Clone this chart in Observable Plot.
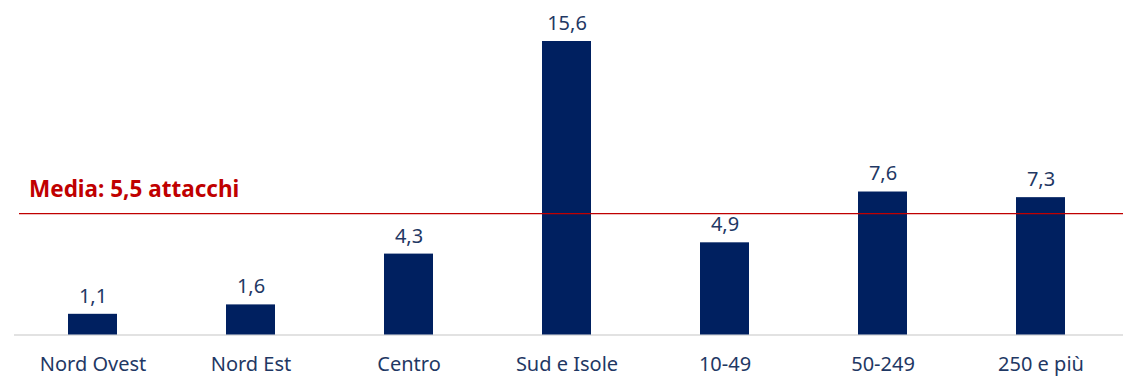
<!DOCTYPE html>
<html>
<head>
<meta charset="utf-8">
<script src="https://cdn.jsdelivr.net/npm/d3@7"></script>
<script src="https://cdn.jsdelivr.net/npm/@observablehq/plot@0.6"></script>
<style>
  html, body { margin: 0; padding: 0; background: #fff; }
  #chart svg { display: block; }
</style>
</head>
<body>
<div id="chart"></div>
<script>
const categories = ["Nord Ovest", "Nord Est", "Centro", "Sud e Isole", "10-49", "50-249", "250 e più"];
const values = [1.1, 1.6, 4.3, 15.6, 4.9, 7.6, 7.3];
const valueLabels = ["1,1", "1,6", "4,3", "15,6", "4,9", "7,6", "7,3"];
const mediaLabel = "Media: 5,5 attacchi";
const mediaLinePosition = [6.45]; // position of the reference line as drawn in the picture

const data = categories.map((c, i) => ({category: c, value: values[i], label: valueLabels[i]}));

const navy = "#002060";
const textNavy = "#1F3864";
const red = "#C00000";
const font = "'Noto Sans', Roboto, sans-serif";

const chart = Plot.plot({
  width: 1123,
  height: 385,
  marginLeft: 13.5,
  marginRight: 3.5,
  marginTop: 41,
  marginBottom: 50.5,
  style: {fontFamily: font, background: "#fff"},
  x: {domain: categories, paddingInner: 0.69, paddingOuter: 0.345, label: null},
  y: {domain: [0, 15.6], axis: null},
  marks: [
    Plot.ruleY([0], {stroke: "#d9d9d9", strokeWidth: 1.5, insetLeft: 0.5, insetRight: -3.5}),
    Plot.barY(data, {x: "category", y: "value", fill: navy}),
    Plot.ruleY(mediaLinePosition, {stroke: red, strokeWidth: 1.2, insetLeft: 5.5, insetRight: -3.5}),
    Plot.text(mediaLinePosition, {y: d => d, text: () => mediaLabel, frameAnchor: "left", dx: 15, dy: -24, textAnchor: "start", fill: red, fontWeight: "bold", fontSize: 22.5}),
    Plot.text(data, {x: "category", y: "value", text: "label", dy: -18, fill: textNavy, fontSize: 20}),
    Plot.axisX({tickSize: 0, tickPadding: 21.5, fontSize: 20, color: textNavy, label: null})
  ]
});
document.getElementById("chart").appendChild(chart);
</script>
</body>
</html>
